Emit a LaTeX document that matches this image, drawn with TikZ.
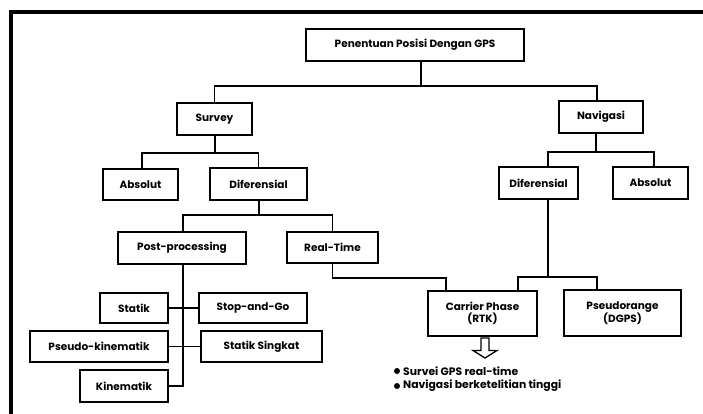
\documentclass[tikz,border=0pt]{standalone}
\usepackage{fontspec}
\setmainfont{Poppins}
\begin{document}
\begin{tikzpicture}[x=1pt,y=-1pt,
  box/.style={draw,line width=1.6pt,rectangle,inner sep=0pt,align=center,
    font=\fontsize{10.5}{12.5}\selectfont\bfseries},
  link/.style={line width=1.3pt},
  bul/.style={anchor=west,inner sep=0pt,font=\fontsize{10.8}{12}\selectfont\bfseries}]
\useasboundingbox (0,0) rectangle (703,414);
% outer frame, open towards the right and bottom edges
\begin{scope}
  \clip (0,0) rectangle (703,414);
  \draw[line width=4pt] (10.5,430) -- (10.5,12) -- (720,12);
\end{scope}

% boxes
\node[box,minimum width=218pt,minimum height=32pt] (top) at (415,45) {Penentuan Posisi Dengan GPS};
\node[box,minimum width=75pt,minimum height=32pt] (survey) at (214.5,119) {Survey};
\node[box,minimum width=84pt,minimum height=32pt] (nav) at (601,117) {Navigasi};
\node[box,minimum width=75pt,minimum height=31pt] (absL) at (140.5,184.5) {Absolut};
\node[box,minimum width=97pt,minimum height=32pt] (difL) at (258.5,184) {Diferensial};
\node[box,minimum width=79pt,minimum height=32pt] (difR) at (538.5,183) {Diferensial};
\node[box,minimum width=75pt,minimum height=32pt] (absR) at (650.5,183) {Absolut};
\node[box,minimum width=128pt,minimum height=32pt] (post) at (182,248) {Post-processing};
\node[box,minimum width=91pt,minimum height=31pt] (rt) at (332.5,247.5) {Real-Time};
\node[box,minimum width=109pt,minimum height=45pt] (carrier) at (482.5,313.5) {Carrier Phase\\(RTK)};
\node[box,minimum width=117pt,minimum height=46pt] (pseudo) at (622.5,313) {Pseudorange\\(DGPS)};
\node[box,minimum width=68pt,minimum height=30pt] (statik) at (134,308) {Statik};
\node[box,minimum width=108pt,minimum height=30pt] (stopgo) at (253,308) {Stop-and-Go};
\node[box,minimum width=138pt,minimum height=31pt] (pkin) at (99,346.5) {Pseudo-kinematik};
\node[box,minimum width=121pt,minimum height=31pt] (singkat) at (261.5,346.5) {Statik Singkat};
\node[box,minimum width=88pt,minimum height=32pt] (kin) at (124,386) {Kinematik};

% junction points of the tree
\coordinate (j1) at (421,86);
\coordinate (j2) at (215,153);
\coordinate (j3) at (596,152);
\coordinate (j4) at (259,215);
\coordinate (j5) at (548,277);
\coordinate (k1) at (446,278);
\coordinate (k2) at (518,277);
\coordinate (k3) at (597,277);
\coordinate (k4) at (183,386);

% connectors
\draw[link] (j1 |- top.south) -- (j1);
\draw[link] (survey.north) |- (j1) -| ([xshift=-4pt]nav.north);
\draw[link] (survey.south -| j2) -- (j2);
\draw[link] ([xshift=1.5pt]absL.north) |- (j2) -| (difL.north);
\draw[link] (nav.south -| j3) -- (j3);
\draw[link] ([xshift=9.5pt]difR.north) |- (j3) -| ([xshift=3.5pt]absR.north);
\draw[link] (difL.south -| j4) -- (j4);
\draw[link] ([xshift=1pt]post.north) |- (j4) -| (rt.north);
\draw[link] (rt.south) |- (k1) -- (k1 |- carrier.north);
\draw[link] (difR.south -| j5) -- (j5);
\draw[link] (k2 |- carrier.north) -- (k2) -- (k3) -- (k3 |- pseudo.north);
\draw[link] (post.south -| k4) -- (k4) -- (kin.east);
\draw[link] (statik.east) -- (stopgo.west);
\draw[link] (pkin.east) -- (singkat.west);

% hollow arrow towards the applications
\draw[line width=1.3pt,line join=miter]
  (481,338) -- (489,338) -- (489,350.5) -- (497,350.5) -- (485,358)
  -- (473,350.5) -- (481,350.5) -- cycle;

% applications of RTK
\fill (397,371) circle (3pt);
\node[bul] (app1) at (403,371) {Survei GPS real-time};
\fill (397,386) circle (3pt);
\node[bul] (app2) at (403,386) {Navigasi berketelitian tinggi};
\end{tikzpicture}
\end{document}
